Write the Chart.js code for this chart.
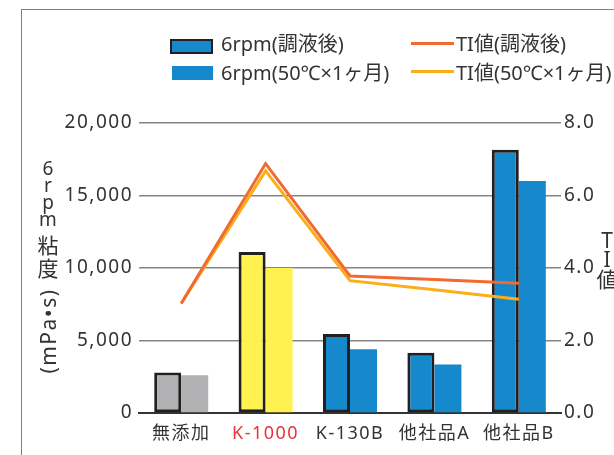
<!DOCTYPE html>
<html><head><meta charset="utf-8">
<script src="https://cdn.jsdelivr.net/npm/chart.js@4"></script>
<style>
html,body{margin:0;padding:0;width:614px;height:455px;overflow:hidden;background:#fff;}
#wrap{position:relative;width:614px;height:455px;overflow:hidden;font-family:"Noto Sans","Noto Sans CJK JP",sans-serif;color:#333;}
#frame{position:absolute;left:21px;top:9px;width:1000px;height:1000px;border:1.5px solid #808080;}
#c{position:absolute;left:0;top:0;}
.lgt{position:absolute;font-size:20px;line-height:24px;height:24px;white-space:nowrap;}
.box{position:absolute;box-sizing:border-box;}
.ln{position:absolute;height:3px;}
.stack{position:absolute;display:flex;flex-direction:column;align-items:center;white-space:nowrap;}
.stack span{display:block;text-align:center;}
#ytitle1{left:33px;width:30px;top:160px;}
#ytitle2{position:absolute;left:48px;top:331px;transform:translate(-50%,-50%) rotate(-90deg);font-size:21px;line-height:24px;letter-spacing:1.5px;white-space:nowrap;}
#y2title{left:596px;width:22px;top:231px;}
</style></head>
<body>
<div id="wrap">
<div id="frame"></div>
<canvas id="c" width="614" height="455"></canvas>
<div id="legend"></div>
<div id="ytitle1" class="stack">
  <span style="font-size:19px;line-height:17px;height:17px">6</span>
  <span style="font-size:19px;line-height:17px;height:17px">r</span>
  <span style="font-size:19px;line-height:17px;height:17px">p</span>
  <span style="font-size:19px;line-height:17px;height:17px">m</span>
  <span style="font-size:21px;line-height:23px;height:23px;margin-top:6px">粘</span>
  <span style="font-size:21px;line-height:23px;height:23px">度</span>
</div>
<div id="ytitle2">(mPa•s)</div>
<div id="y2title" class="stack">
  <span style="font-size:21px;line-height:19px;height:19px">T</span>
  <span style="font-size:21px;line-height:18px;height:18px">I</span>
  <span style="font-size:21px;line-height:23px;height:23px">値</span>
</div>
</div>
<script>
const categories = ['無添加','K-1000','K-130B','他社品A','他社品B'];
const rpmAfter = [2800, 11100, 5450, 4150, 18150];
const rpm50C   = [2600, 10000, 4400, 3350, 16000];
const tiAfter  = [3.02, 6.88, 3.78, 3.68, 3.58];
const ti50C    = [3.02, 6.68, 3.65, 3.40, 3.14];
const seriesNames = ['6rpm(調液後)','6rpm(50℃×1ヶ月)','TI値(調液後)','TI値(50℃×1ヶ月)'];
const barColors = ['#b1b1b4','#fff14f','#1589cb','#1589cb','#1589cb'];
const labelColors = ['#333333','#e8333c','#333333','#333333','#333333'];
const blue = '#1589cb', orange = '#f26a30', yellow = '#fbae1c', dark = '#231f20';
const fam = '"Noto Sans","Noto Sans CJK JP",sans-serif';

// HTML legend
const lg = document.getElementById('legend');
function add(html){ lg.insertAdjacentHTML('beforeend', html); }
add(`<div class="box" style="left:170px;top:39px;width:43px;height:14.5px;background:${blue};border:2.5px solid ${dark}"></div>`);
add(`<div class="lgt" style="left:221px;top:32px">${seriesNames[0]}</div>`);
add(`<div class="box" style="left:172px;top:66px;width:41px;height:13.5px;background:${blue}"></div>`);
add(`<div class="lgt" style="left:221px;top:61px">${seriesNames[1]}</div>`);
add(`<div class="ln" style="left:411px;top:41.5px;width:43px;background:${orange}"></div>`);
add(`<div class="lgt" style="left:456px;top:32px">${seriesNames[2]}</div>`);
add(`<div class="ln" style="left:411px;top:69.5px;width:43px;background:${yellow}"></div>`);
add(`<div class="lgt" style="left:456px;top:61px">${seriesNames[3]}</div>`);

const tickFont = {family: fam, size: 19};
const catFont = {family: fam, size: 18};
new Chart(document.getElementById('c'), {
  type: 'bar',
  data: {
    labels: categories,
    datasets: [
      {type:'line', label:seriesNames[2], data:tiAfter, yAxisID:'y2', borderColor:orange, borderWidth:3, pointRadius:0, tension:0, fill:false, order:0},
      {type:'line', label:seriesNames[3], data:ti50C, yAxisID:'y2', borderColor:yellow, borderWidth:3, pointRadius:0, tension:0, fill:false, order:1},
      {label:seriesNames[0], data:rpmAfter, yAxisID:'y', backgroundColor:barColors, borderColor:dark, borderWidth:3, borderSkipped:false, order:2},
      {label:seriesNames[1], data:rpm50C, yAxisID:'y', backgroundColor:barColors, borderWidth:0, order:3}
    ]
  },
  options: {
    responsive:false, animation:false, devicePixelRatio:1,
    plugins:{legend:{display:false}, tooltip:{enabled:false}},
    layout:{padding:{top:123,left:0,right:0,bottom:0}},
    datasets:{bar:{categoryPercentage:0.64, barPercentage:1.0}},
    scales:{
      x:{
        grid:{display:false},
        border:{display:true,color:'#333',width:2},
        ticks:{color:(c)=>labelColors[c.index], font:catFont, padding:2, maxRotation:0, autoSkip:false},
        afterFit(s){ s.height = 42; }
      },
      y:{
        position:'left', min:0, max:20000,
        ticks:{stepSize:5000, callback:(v)=>v.toLocaleString('en-US'), color:'#333', font:tickFont, padding:6},
        grid:{color:'#858585', lineWidth:1.5, drawTicks:false},
        border:{display:false},
        afterFit(s){ s.width = 139; }
      },
      y2:{
        position:'right', min:0, max:8,
        ticks:{stepSize:2, callback:(v)=>v.toFixed(1), color:'#333', font:tickFont, padding:3},
        grid:{display:false, drawTicks:false},
        border:{display:false},
        afterFit(s){ s.width = 53; }
      }
    }
  },
  plugins:[{id:'letterspacing', beforeDraw(c){ c.ctx.letterSpacing = '1.5px'; }}]
});
</script>
</body></html>
